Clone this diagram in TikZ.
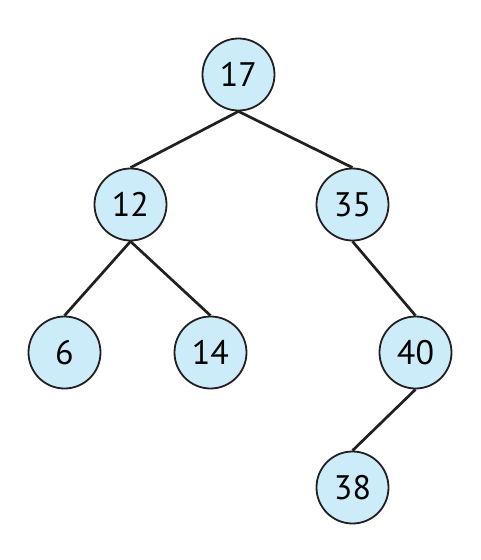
\documentclass[tikz,border=0pt]{standalone}
\usepackage{fontspec}
\setmainfont{PT Sans}
\usepackage{tikz}
\usetikzlibrary{positioning}

\definecolor{keyfill}{RGB}{205,236,250}
\definecolor{keyline}{RGB}{35,31,32}

\begin{document}
\begin{tikzpicture}[
  every node/.style={font=\fontsize{34}{40}\selectfont},
  key/.style={circle,draw=keyline,line width=1.8pt,fill=keyfill,minimum size=72pt,inner sep=0pt},
  link/.style={draw=keyline,line width=2.7pt}]

\useasboundingbox (-238.5pt,74.5pt) rectangle (242.5pt,-485.5pt);

\node[key] (k17) at (0,0) {17};
\node[key,on grid,below left=130pt and 108pt of k17] (k12) {12};
\node[key,on grid,below right=130pt and 114pt of k17] (k35) {35};

\node[key,on grid,below left=148pt and 66pt of k12] (k6) {6};
\node[key,on grid,below right=148pt and 80pt of k12] (k14) {14};
\node[key,on grid,below right=148pt and 63pt of k35] (k40) {40};
\node[key,on grid,below left=135pt and 63pt of k40] (k38) {38};

\draw[link] (k17.south) -- (k12.north);
\draw[link] (k17.south) -- (k35.north);
\draw[link] (k12.south) -- (k6.north);
\draw[link] (k12.south) -- (k14.north);
\draw[link] (k35.south) -- (k40.north);
\draw[link] (k40.south) -- (k38.north);
\end{tikzpicture}
\end{document}
